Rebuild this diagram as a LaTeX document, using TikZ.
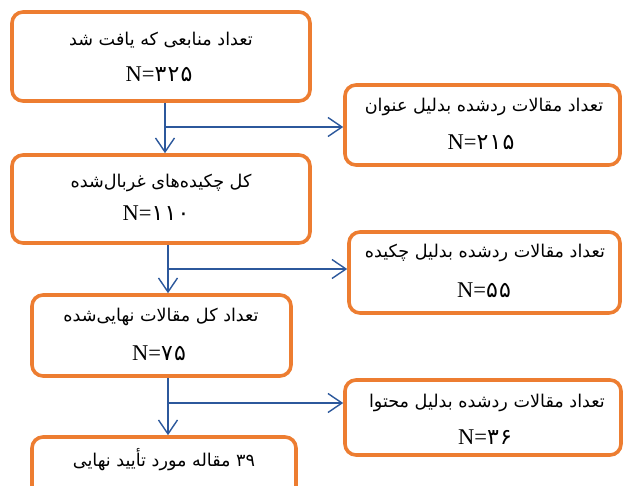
\documentclass[tikz,border=0pt]{standalone}
\usepackage{fontspec}
\setmainfont{Liberation Serif}
\newfontfamily\fa[Script=Arabic]{DejaVu Sans}
\TeXXeTstate=1
\usetikzlibrary{arrows.meta}
\definecolor{boxorange}{RGB}{237,125,49}
\definecolor{arrowblue}{RGB}{44,88,156}
\newcommand{\pfa}[1]{{\fa\fontsize{17.6}{20}\selectfont\beginR #1\endR}}
\newcommand{\nval}[1]{{\fontsize{22.5}{26}\selectfont N=}{\fa\fontsize{22}{26}\selectfont #1}}
\newcommand{\dg}{\kern1.2pt}
\begin{document}
\begin{tikzpicture}[x=1pt,y=-1pt,
  box/.style={draw=boxorange, line width=3.6pt, rounded corners=11pt, fill=white, inner sep=0pt},
  flow/.style={draw=arrowblue, line width=1.4pt, -{Straight Barb[length=14pt,width=19pt]}},
  ptext/.style={inner sep=0pt, anchor=center}
]
\clip (0,0) rectangle (623,485);
\fill[white] (0,0) rectangle (623,485);
% left column boxes
\node[box, minimum width=298pt, minimum height=89pt] (b1) at (161,56.5) {};
\node[box, minimum width=298pt, minimum height=88pt] (b2) at (161,199) {};
\node[box, minimum width=259pt, minimum height=81pt] (b3) at (161.5,335.5) {};
\node[box, minimum width=264pt, minimum height=80pt] (b4) at (164,477) {};
% right column boxes
\node[box, minimum width=275pt, minimum height=80pt] (bA) at (482.5,125) {};
\node[box, minimum width=271pt, minimum height=81pt] (bB) at (484.5,272.5) {};
\node[box, minimum width=276pt, minimum height=75pt] (bC) at (483,417.5) {};
% texts
\node[ptext] (t1a) at (161,40) {\pfa{تعداد منابعی که یافت شد}};
\node[ptext] (t1b) at (159,74) {\nval{۳\dg۲\dg۵}};
\node[ptext] (t2a) at (161,183) {\pfa{کل چکیده‌های غربال‌شده}};
\node[ptext] (t2b) at (156,213) {\nval{۱\dg۱\dg۰}};
\node[ptext] (t3a) at (161,317) {\pfa{تعداد کل مقالات نهایی‌شده}};
\node[ptext] (t3b) at (159,353) {\nval{۷\dg۵}};
\node[ptext] (t4a) at (164,460) {\pfa{۳۹ مقاله مورد تأیید نهایی}};
\node[ptext] (tAa) at (484,107) {\pfa{تعداد مقالات ردشده بدلیل عنوان}};
\node[ptext] (tAb) at (481,142) {\nval{۲\dg۱\dg۵}};
\node[ptext] (tBa) at (485,253) {\pfa{تعداد مقالات ردشده بدلیل چکیده}};
\node[ptext] (tBb) at (484,290) {\nval{۵\dg۵}};
\node[ptext, anchor=east] (tCa) at (605,403) {\pfa{تعداد مقالات ردشده بدلیل محتوا}};
\node[ptext] (tCb) at (485,437) {\nval{۳\dg۶}};
% connectors
\coordinate (v1) at (165,127);
\coordinate (v2) at (168,269);
\coordinate (v3) at (168,403);
\draw[flow] (b1.south -| v1) -- (b2.north -| v1);
\draw[flow] (v1) -- (v1 -| bA.west);
\draw[flow] (b2.south -| v2) -- (b3.north -| v2);
\draw[flow] (v2) -- (v2 -| bB.west);
\draw[flow] (b3.south -| v3) -- (b4.north -| v3);
\draw[flow] (v3) -- (v3 -| bC.west);
\end{tikzpicture}
\end{document}
